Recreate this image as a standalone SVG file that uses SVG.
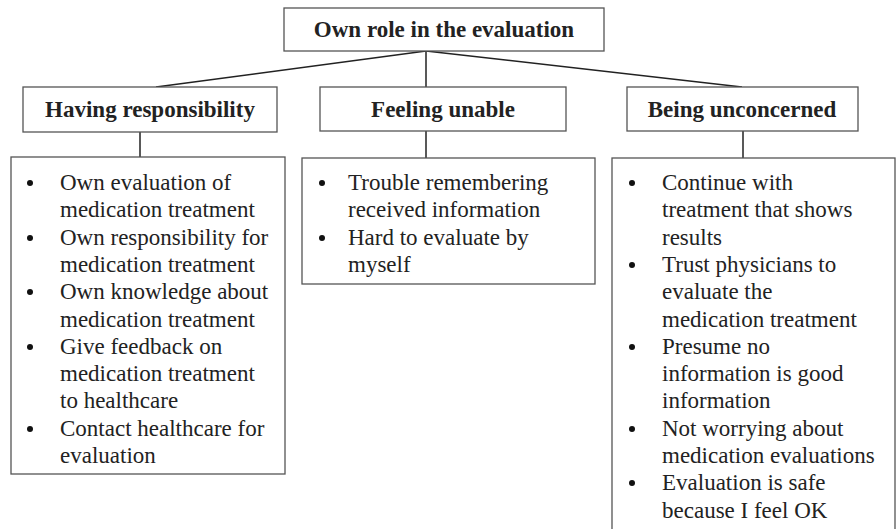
<svg xmlns="http://www.w3.org/2000/svg" width="896" height="529" viewBox="0 0 896 529">
<style>
.box{fill:#fff;stroke:#555;stroke-width:1.3}
.ln{fill:none;stroke:#222;stroke-width:1.5}
.h{font-family:"Liberation Serif","Times New Roman",serif;font-weight:bold;font-size:23px;fill:#222;text-anchor:middle}
.t{font-family:"Liberation Serif","Times New Roman",serif;font-size:23px;fill:#222}
.b{fill:#111}
</style>
<rect width="896" height="529" fill="#fff"/>
<g id="connectors">
<line class="ln" x1="426" y1="51" x2="156" y2="87"/>
<line class="ln" x1="426" y1="51" x2="426" y2="87"/>
<line class="ln" x1="426" y1="51" x2="742" y2="87"/>
<line class="ln" x1="140" y1="132" x2="140" y2="157"/>
<line class="ln" x1="426" y1="131" x2="426" y2="158"/>
<line class="ln" x1="743" y1="131" x2="743" y2="158"/>
</g>
<g id="root">
<rect class="box" x="284" y="8" width="320" height="43"/>
<text class="h" x="444" y="37">Own role in the evaluation</text>
</g>
<g id="having">
<rect class="box" x="23" y="87" width="254" height="45"/>
<text class="h" x="150" y="117">Having responsibility</text>
</g>
<g id="feeling">
<rect class="box" x="320" y="87" width="246" height="44"/>
<text class="h" x="443" y="117">Feeling unable</text>
</g>
<g id="being">
<rect class="box" x="627" y="87" width="231" height="44"/>
<text class="h" x="742" y="117">Being unconcerned</text>
</g>
<g id="having-list">
<rect class="box" x="11" y="157" width="274" height="317"/>
<g class="b">
<circle cx="30" cy="183" r="3"/>
<circle cx="30" cy="238" r="3"/>
<circle cx="30" cy="292" r="3"/>
<circle cx="30" cy="347" r="3"/>
<circle cx="30" cy="429" r="3"/>
</g>
<text class="t">
<tspan x="60" y="190">Own evaluation of</tspan>
<tspan x="60" y="217.3">medication treatment</tspan>
<tspan x="60" y="244.6">Own responsibility for</tspan>
<tspan x="60" y="271.9">medication treatment</tspan>
<tspan x="60" y="299.2">Own knowledge about</tspan>
<tspan x="60" y="326.5">medication treatment</tspan>
<tspan x="60" y="353.8">Give feedback on</tspan>
<tspan x="60" y="381.1">medication treatment</tspan>
<tspan x="60" y="408.4">to healthcare</tspan>
<tspan x="60" y="435.7">Contact healthcare for</tspan>
<tspan x="60" y="463">evaluation</tspan>
</text>
</g>
<g id="feeling-list">
<rect class="box" x="302" y="158" width="293" height="126"/>
<g class="b">
<circle cx="322" cy="183" r="3"/>
<circle cx="322" cy="238" r="3"/>
</g>
<text class="t">
<tspan x="348" y="190">Trouble remembering</tspan>
<tspan x="348" y="217.3">received information</tspan>
<tspan x="348" y="244.6">Hard to evaluate by</tspan>
<tspan x="348" y="271.9">myself</tspan>
</text>
</g>
<g id="being-list">
<rect class="box" x="612" y="158" width="283" height="380"/>
<g class="b">
<circle cx="632" cy="183" r="3"/>
<circle cx="632" cy="265" r="3"/>
<circle cx="632" cy="347" r="3"/>
<circle cx="632" cy="429" r="3"/>
<circle cx="632" cy="483" r="3"/>
</g>
<text class="t">
<tspan x="662" y="190">Continue with</tspan>
<tspan x="662" y="217.3">treatment that shows</tspan>
<tspan x="662" y="244.6">results</tspan>
<tspan x="662" y="271.9">Trust physicians to</tspan>
<tspan x="662" y="299.2">evaluate the</tspan>
<tspan x="662" y="326.5">medication treatment</tspan>
<tspan x="662" y="353.8">Presume no</tspan>
<tspan x="662" y="381.1">information is good</tspan>
<tspan x="662" y="408.4">information</tspan>
<tspan x="662" y="435.7">Not worrying about</tspan>
<tspan x="662" y="463">medication evaluations</tspan>
<tspan x="662" y="490.3">Evaluation is safe</tspan>
<tspan x="662" y="517.6">because I feel OK</tspan>
</text>
</g>
</svg>
